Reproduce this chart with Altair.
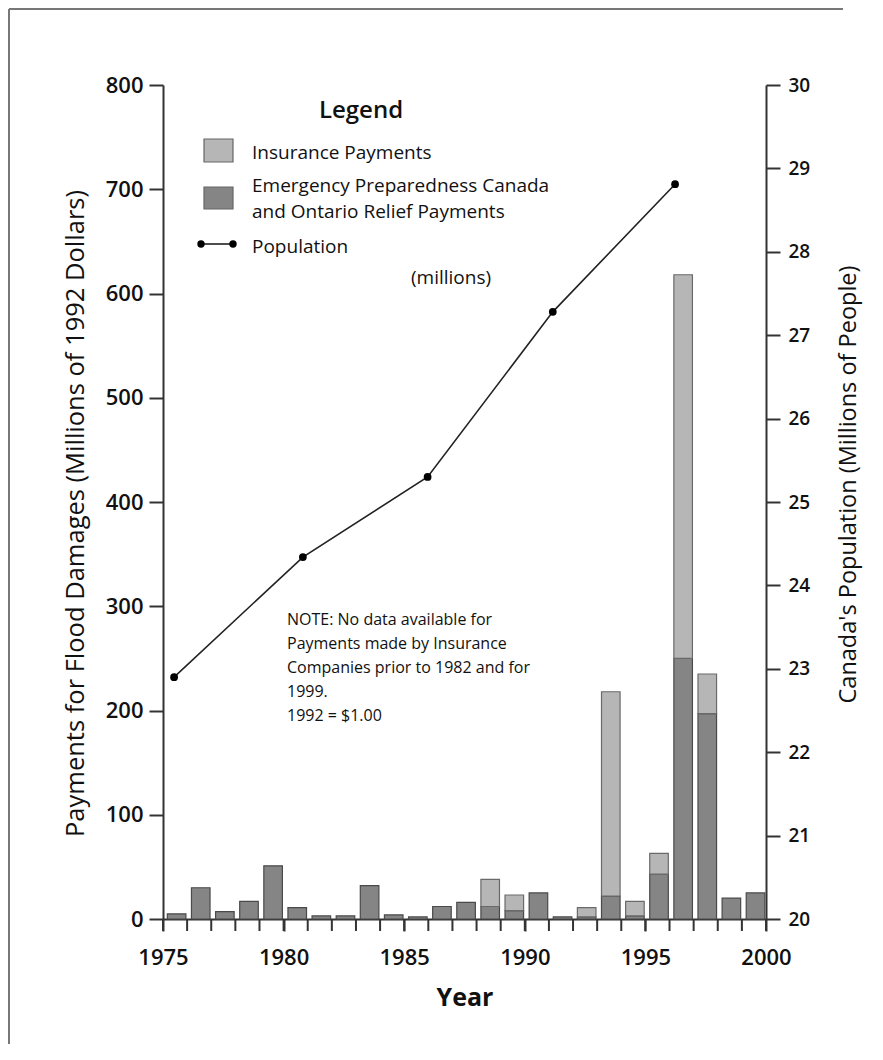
import altair as alt
import pandas as pd

# ---- data ----
years = list(range(1975, 2000))
relief = [5, 30, 7, 17, 51, 11, 3, 3, 32, 4, 2, 12, 16, 12, 8, 25, 2, 2, 22, 3, 43, 250, 197, 20, 25]
insurance = [0, 0, 0, 0, 0, 0, 0, 0, 0, 0, 0, 0, 0, 26, 15, 0, 0, 9, 196, 14, 20, 368, 38, 0, 0]
pop_year = [1975.46, 1980.80, 1985.97, 1991.16, 1996.23]
pop_millions = [22.90, 24.34, 25.30, 27.28, 28.81]
year_ticks = list(range(1975, 2001))
x_labels = list(range(1975, 2001, 5))
left_ticks = list(range(0, 801, 100))
right_ticks = list(range(20, 31))
note_lines = [
    "NOTE: No data available for",
    "Payments made by Insurance",
    "Companies prior to 1982 and for",
    "1999.",
    "1992 = $1.00",
]

FONT = "Open Sans"
LIGHT = "#b6b6b6"
DARK = "#858585"
AXC = "#333"
W, H = 603, 834

bars = pd.DataFrame({"year": years, "relief": relief, "insurance": insurance})
bars["start"] = bars["year"] + 0.18
bars["end"] = bars["year"] + 0.95
bars["total"] = bars["relief"] + bars["insurance"]
ins = bars[bars["insurance"] > 0]
pop = pd.DataFrame({"year": pop_year, "pop": pop_millions})
ticks = pd.DataFrame({"yr": year_ticks})

xscale = alt.Scale(domain=[1975, 2000], nice=False, zero=False)
xaxis = alt.Axis(
    values=x_labels, format="d", grid=False, labelOverlap=False, labelFlush=False,
    tickSize=12, labelPadding=16, labelFontSize=22, labelFontWeight=600,
    title="Year", titleFontSize=25, titleFontWeight="bold",
    titleX=W / 2, titleY=78, titleAlign="center", titleBaseline="middle",
)
yleft = alt.Axis(
    values=left_ticks, format="d", grid=False, labelOverlap=False, labelFlush=False,
    tickSize=14, labelPadding=6, labelFontSize=22, labelFontWeight=600,
    title="Payments for Flood Damages (Millions of 1992 Dollars)",
    titleFontSize=25.5, titleFontWeight="normal", titleAngle=270,
    titleX=-88, titleY=428, titleAlign="center", titleBaseline="middle",
)
yright = alt.Axis(
    orient="right", values=right_ticks, format="d", grid=False,
    labelOverlap=False, labelFlush=False,
    tickSize=14, labelPadding=8, labelFontSize=19, labelFontWeight=600,
    title="Canada's Population (Millions of People)",
    titleFontSize=23.5, titleFontWeight="normal", titleAngle=270,
    titleX=82, titleY=399, titleAlign="center", titleBaseline="middle",
)

relief_bars = alt.Chart(bars).mark_bar(color=DARK, stroke="#4a4a4a", strokeWidth=1.2).encode(
    x=alt.X("start:Q", scale=xscale, axis=xaxis),
    x2="end:Q",
    y=alt.Y("relief:Q", scale=alt.Scale(domain=[0, 800], nice=False), axis=yleft),
    y2=alt.datum(0),
)
ins_bars = alt.Chart(ins).mark_bar(color=LIGHT, stroke="#6a6a6a", strokeWidth=1.2).encode(
    x=alt.X("start:Q", scale=xscale),
    x2="end:Q",
    y=alt.Y("total:Q"),
    y2="relief:Q",
)
year_tick_marks = alt.Chart(ticks).mark_rule(color=AXC, strokeWidth=2).encode(
    x=alt.X("yr:Q", scale=xscale),
    y=alt.value(H),
    y2=alt.value(H + 12),
)
bar_layer = alt.layer(relief_bars, ins_bars, year_tick_marks)

pop_line = alt.Chart(pop).mark_line(color="#222", strokeWidth=1.6).encode(
    x=alt.X("year:Q", scale=xscale),
    y=alt.Y("pop:Q", scale=alt.Scale(domain=[20, 30], nice=False, zero=False), axis=yright),
)
pop_pts = alt.Chart(pop).mark_point(filled=True, color="#000", size=60, opacity=1).encode(
    x=alt.X("year:Q", scale=xscale),
    y=alt.Y("pop:Q"),
)
pop_layer = alt.layer(pop_line, pop_pts)

# ---- legend and annotations (pixel positions) ----
def px(field):
    return alt.X(f"{field}:Q", scale=None, axis=None)

def py(field):
    return alt.Y(f"{field}:Q", scale=None, axis=None)

leg_title = alt.Chart(pd.DataFrame({"t": ["Legend"], "x": [198], "y": [26]})).mark_text(
    font=FONT, fontSize=24, fontWeight=600, align="center", baseline="middle", color="#111"
).encode(x=px("x"), y=py("y"), text="t:N")

leg_items = pd.DataFrame({
    "t": ["Insurance Payments", "Emergency Preparedness Canada",
          "and Ontario Relief Payments", "Population"],
    "x": [89, 89, 89, 89],
    "y": [68, 101, 127, 162],
})
leg_text = alt.Chart(leg_items).mark_text(
    font=FONT, fontSize=19, fontWeight=500, align="left", baseline="middle", color="#111"
).encode(x=px("x"), y=py("y"), text="t:N")

millions = alt.Chart(pd.DataFrame({"t": ["(millions)"], "x": [288], "y": [193]})).mark_text(
    font=FONT, fontSize=19, fontWeight=500, align="center", baseline="middle", color="#111"
).encode(x=px("x"), y=py("y"), text="t:N")

boxes = pd.DataFrame({"x": [41, 41], "x2": [70, 70], "y": [54, 102], "y2": [77, 124],
                      "c": [LIGHT, DARK]})
leg_boxes = alt.Chart(boxes).mark_rect(stroke="#666", strokeWidth=1.2).encode(
    x=px("x"), x2="x2:Q", y=py("y"), y2="y2:Q", color=alt.Color("c:N", scale=None)
)
sym = pd.DataFrame({"x": [38, 70], "y": [159, 159]})
leg_line = alt.Chart(sym).mark_line(color="#222", strokeWidth=1.6).encode(x=px("x"), y=py("y"))
leg_pts = alt.Chart(sym).mark_point(filled=True, color="#000", size=55, opacity=1).encode(
    x=px("x"), y=py("y"))

note = pd.DataFrame({"t": note_lines, "x": [124] * 5, "y": [535 + 24 * i for i in range(5)]})
note_text = alt.Chart(note).mark_text(
    font=FONT, fontSize=16, fontWeight=500, align="left", baseline="middle", color="#111"
).encode(x=px("x"), y=py("y"), text="t:N")

# page frame (left and top edges only, as in the reference)
vframe = alt.Chart(pd.DataFrame({"x": [-154], "y": [-76], "y2": [959]})).mark_rule(
    color="#777", strokeWidth=2).encode(x=px("x"), y=py("y"), y2="y2:Q")
hframe = alt.Chart(pd.DataFrame({"x": [-154], "x2": [680], "y": [-76]})).mark_rule(
    color="#777", strokeWidth=2).encode(x=px("x"), x2="x2:Q", y=py("y"))

chart = alt.layer(
    bar_layer, pop_layer, leg_title, leg_text, millions, leg_boxes, leg_line, leg_pts,
    note_text, vframe, hframe,
).resolve_scale(y="independent").properties(
    width=W, height=H,
    padding={"left": 155, "top": 77, "right": 100, "bottom": 125},
    autosize=alt.AutoSizeParams(type="none"),
    background="white",
).configure_view(stroke=None).configure_axis(
    grid=False, domainColor=AXC, tickColor=AXC, domainWidth=2, tickWidth=2,
    labelColor="#111", titleColor="#111", labelFont=FONT, titleFont=FONT,
)

chart.save("out.html", embed_options={"renderer": "svg", "actions": False})
